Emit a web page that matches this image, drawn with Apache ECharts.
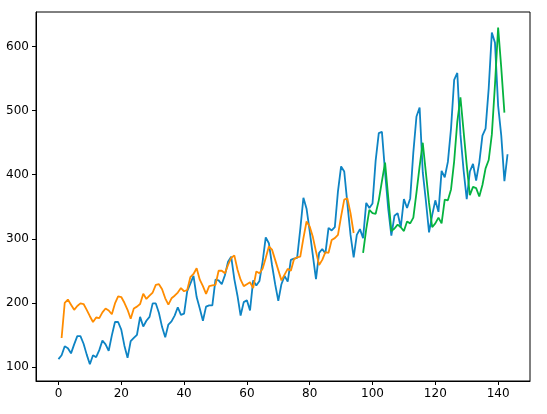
<!DOCTYPE html>
<html>
<head>
<meta charset="utf-8">
<script src="https://cdn.jsdelivr.net/npm/echarts@6/dist/echarts.min.js"></script>
<style>html,body{margin:0;padding:0;background:#fff}#c{width:547px;height:414px}</style>
</head>
<body>
<div id="c"></div>
<script>
const actual = [112,118,132,129,121,135,148,148,136,119,104,118,
115,126,141,135,125,149,170,170,158,133,114,140,
145,150,178,163,172,178,199,199,184,162,146,166,
171,180,193,181,183,218,230,242,209,191,172,194,
196,196,236,235,229,243,264,272,237,211,180,201,
204,188,235,227,234,264,302,293,259,229,203,229,
242,233,267,269,270,315,364,347,312,274,237,278,
284,277,317,313,318,374,413,405,355,306,271,306,
315,301,356,348,355,422,465,467,404,347,305,336,
340,318,362,348,363,435,491,505,404,359,310,337,
360,342,406,396,420,472,548,559,463,407,362,405,
417,391,419,461,472,535,622,606,508,461,390,432];
const trainStart = 1;
const trainPred = [145,200,205,197,189,195,199,198,189,179,170,177,176,185,191,188,182,199,210,209,
200,189,175,191,194,198,214,206,211,216,228,229,221,207,197,207,211,216,223,218,
220,240,245,254,236,226,214,226,227,228,250,250,246,259,270,274,252,236,226,229,
232,223,249,246,253,270,288,283,267,251,235,244,253,250,268,271,272,301,327,319,
303,280,259,267,279,278,298,301,306,335,361,363,340,309];
const testStart = 97;
const testPred = [278,315,345,340,339,360,390,419,365,312,316,322,318,312,327,324,333,372,413,450,
403,356,318,324,333,324,361,360,377,421,483,521,468,415,368,381,379,366,384,410,
423,463,541,630,567,497];
const xTicks = [0,20,40,60,80,100,120,140];
const yTicks = [100,200,300,400,500,600];

const toPairs = (arr, start) => arr.map((v, i) => [start + i, v]);

const chart = echarts.init(document.getElementById('c'), null, {renderer: 'canvas'});
const font = {fontFamily: 'DejaVu Sans', fontSize: 12, color: '#000'};
chart.setOption({
  animation: false,
  backgroundColor: '#fff',
  grid: {left: 36, right: 17, top: 12, bottom: 33, show: true, borderColor: '#000', borderWidth: 1, backgroundColor: 'transparent'},
  xAxis: {
    type: 'value', min: -7.15, max: 150.15,
    axisLine: {show: true, onZero: false, lineStyle: {color: '#000', width: 1}},
    axisTick: {show: true, inside: false, length: 4, lineStyle: {color: '#000'}, customValues: xTicks},
    axisLabel: Object.assign({margin: 7, customValues: xTicks}, font),
    splitLine: {show: false}
  },
  yAxis: {
    type: 'value', min: 77.8, max: 654.2,
    axisLine: {show: true, onZero: false, lineStyle: {color: '#000', width: 1}},
    axisTick: {show: true, inside: false, length: 4, lineStyle: {color: '#000'}, customValues: yTicks},
    axisLabel: Object.assign({margin: 7, customValues: yTicks}, font),
    splitLine: {show: false}
  },
  series: [
    {type: 'line', data: toPairs(actual, 0), showSymbol: false, symbol: 'none', lineStyle: {color: '#0e84c4', width: 1.8}, itemStyle: {color: '#0e84c4'}},
    {type: 'line', data: toPairs(trainPred, trainStart), showSymbol: false, symbol: 'none', lineStyle: {color: '#ff8c00', width: 1.8}, itemStyle: {color: '#ff8c00'}},
    {type: 'line', data: toPairs(testPred, testStart), showSymbol: false, symbol: 'none', lineStyle: {color: '#05b33f', width: 1.8}, itemStyle: {color: '#05b33f'}}
  ]
});
</script>
</body>
</html>
